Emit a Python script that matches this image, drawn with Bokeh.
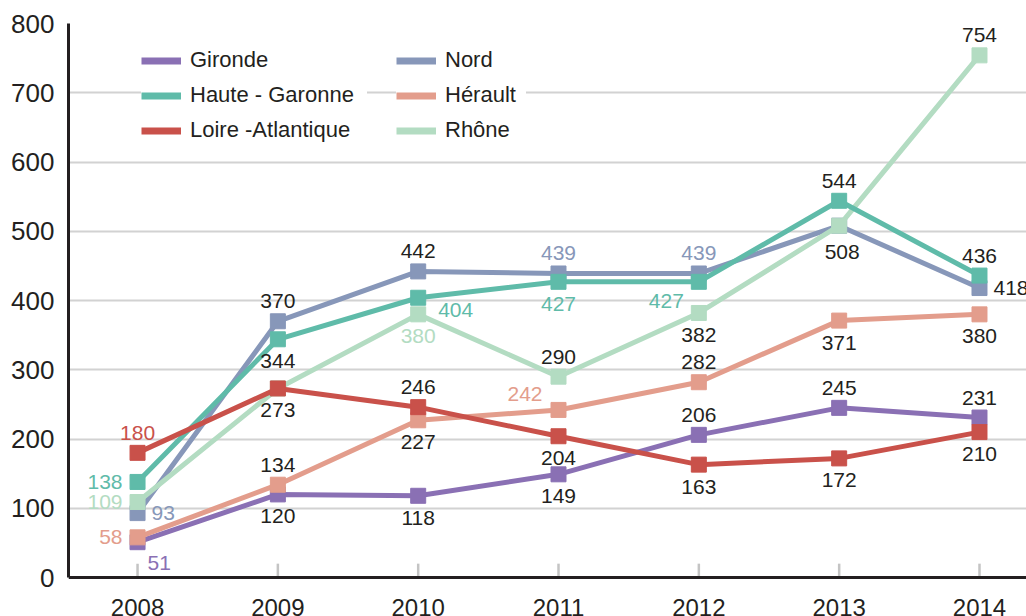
from bokeh.plotting import figure
from bokeh.models import Range1d, FixedTicker, Span, Legend, LegendItem, ColumnDataSource
from bokeh.core.properties import value
from bokeh.embed import file_html
from bokeh.resources import INLINE

# ---------------- data ----------------
years = [2008, 2009, 2010, 2011, 2012, 2013, 2014]
year_labels = ["2008", "2009", "2010", "2011", "2012", "2013", "2014"]
y_ticks = [0, 100, 200, 300, 400, 500, 600, 700, 800]

gironde = [51, 120, 118, 149, 206, 245, 231]
nord = [93, 370, 442, 439, 439, 508, 418]
haute_garonne = [138, 344, 404, 427, 427, 544, 436]
herault = [58, 134, 227, 242, 282, 371, 380]
loire_atlantique = [180, 273, 246, 204, 163, 172, 210]
rhone = [109, 273, 380, 290, 382, 508, 754]

names = ["Gironde", "Nord", "Haute - Garonne", "Hérault", "Loire -Atlantique", "Rhône"]
values_list = [gironde, nord, haute_garonne, herault, loire_atlantique, rhone]

# ---------------- styles ----------------
colors = {
    "Gironde": "#8a70b4",
    "Nord": "#8797b9",
    "Haute - Garonne": "#5fbba9",
    "Hérault": "#e39d8c",
    "Loire -Atlantique": "#c9514a",
    "Rhône": "#b3dcc2",
}
INK = "#231f20"
FONT = "Liberation Sans"
TICK_LEN = 20  # length of the small year ticks, in y units

# label placement: (align, dx, dy)
PLACE = {
    "a": ("center", 0, -20),
    "b": ("center", 0, 22),
    "l": ("right", -15, 0),
    "r": ("left", 14, 0),
    "rb": ("left", 10, 21),
    "rb2": ("left", 20, 12),
    "lb": ("right", -15, 19),
    "la": ("right", -16, -16),
    "b2": ("center", 3, 26),
}
placements = {
    "Gironde": ["rb", "b", "b", "b", "a", "a", "a"],
    "Nord": ["r", "a", "a", "a", "a", "b2", "r"],
    "Haute - Garonne": ["l", "b", "rb2", "b", "lb", "a", "a"],
    "Hérault": ["l", "a", "b", "la", "a", "b", "b"],
    "Loire -Atlantique": ["a", "b", "a", "b", "b", "b", "b"],
    "Rhône": ["l", None, "b", "a", "b", None, "a"],
}
colored = {
    "Gironde": [1, 0, 0, 0, 0, 0, 0],
    "Nord": [1, 0, 0, 1, 1, 0, 0],
    "Haute - Garonne": [1, 0, 1, 1, 1, 0, 0],
    "Hérault": [1, 0, 0, 1, 0, 0, 0],
    "Loire -Atlantique": [1, 0, 0, 0, 0, 0, 0],
    "Rhône": [1, 0, 1, 0, 0, 0, 0],
}
draw_order = ["Gironde", "Nord", "Hérault", "Rhône", "Haute - Garonne", "Loire -Atlantique"]

# ---------------- figure ----------------
p = figure(
    width=1026, height=616,
    x_range=Range1d(2007.508, 2014.335),
    y_range=Range1d(-56.3, 800),
    output_backend="svg", toolbar_location=None,
    x_axis_location=None,
    min_border_left=68, min_border_right=0, min_border_top=23, min_border_bottom=0,
)
p.outline_line_color = None
p.background_fill_color = "white"
p.border_fill_color = "white"

# y axis
p.yaxis.ticker = FixedTicker(ticks=y_ticks)
p.yaxis.bounds = (min(y_ticks), max(y_ticks))
p.yaxis.axis_line_color = INK
p.yaxis.axis_line_width = 3
p.yaxis.major_tick_out = 0
p.yaxis.major_tick_in = 0
p.yaxis.minor_tick_line_color = None
p.yaxis.major_label_text_font = FONT
p.yaxis.major_label_text_font_size = "26px"
p.yaxis.major_label_text_color = INK
p.yaxis.major_label_standoff = 14

p.ygrid.ticker = FixedTicker(ticks=y_ticks[1:])
p.ygrid.grid_line_color = "#d2d2d2"
p.ygrid.grid_line_width = 2
p.xgrid.visible = False

# short year ticks inside the plot
p.segment(x0=years, y0=[y_ticks[0]] * len(years), x1=years, y1=[y_ticks[0] + TICK_LEN] * len(years),
          line_color="#c4c4c4", line_width=2.5, level="underlay")

# x baseline
p.add_layout(Span(location=y_ticks[0], dimension="width", line_color=INK, line_width=3))

# year labels
p.text(x=years, y=[y_ticks[0]] * len(years), text=year_labels,
       text_font=value(FONT), text_font_size="24px", text_color=INK,
       text_align="center", text_baseline="middle", y_offset=30)

# series
for name in draw_order:
    vals = values_list[names.index(name)]
    c = colors[name]
    p.line(years, vals, line_color=c, line_width=5)
    p.scatter(years, vals, marker="square", size=15, fill_color=c, line_color=c)

# data labels
lx, ly, lt, lc, la, ldx, ldy = [], [], [], [], [], [], []
for name in names:
    vals = values_list[names.index(name)]
    for i, v in enumerate(vals):
        code = placements[name][i]
        if code is None:
            continue
        align, dx, dy = PLACE[code]
        lx.append(years[i]); ly.append(v); lt.append(str(v))
        lc.append(colors[name] if colored[name][i] else INK)
        la.append(align); ldx.append(dx); ldy.append(dy)
lsrc = ColumnDataSource(dict(x=lx, y=ly, t=lt, c=lc, a=la, dx=ldx, dy=ldy))
p.text(x="x", y="y", text="t", source=lsrc, text_color="c", text_align="a",
       x_offset="dx", y_offset="dy", text_baseline="middle",
       text_font=value(FONT), text_font_size="21px")

# legend (proxy glyphs with a thicker line; no visible data)
nan = float("nan")
proxies = {}
for name in names:
    proxies[name] = p.line(x=[nan], y=[nan], line_color=colors[name], line_width=7)

def make_legend(items, loc, label_width):
    lg = Legend(items=[LegendItem(label=n, renderers=[proxies[n]]) for n in items],
                location=loc, orientation="vertical",
                background_fill_color="white", background_fill_alpha=1.0,
                border_line_color=None, padding=15, margin=0, spacing=9,
                glyph_width=40, glyph_height=25, label_height=25, label_width=label_width,
                label_standoff=9, label_text_font=FONT, label_text_font_size="22px",
                label_text_color=INK)
    p.add_layout(lg, "center")
    return lg

make_legend(["Gironde", "Haute - Garonne", "Loire -Atlantique"], (73, 473), 177)
make_legend(["Nord", "Hérault", "Rhône"], (328, 473), 81)

open("out.html", "w").write(file_html(p, INLINE))
